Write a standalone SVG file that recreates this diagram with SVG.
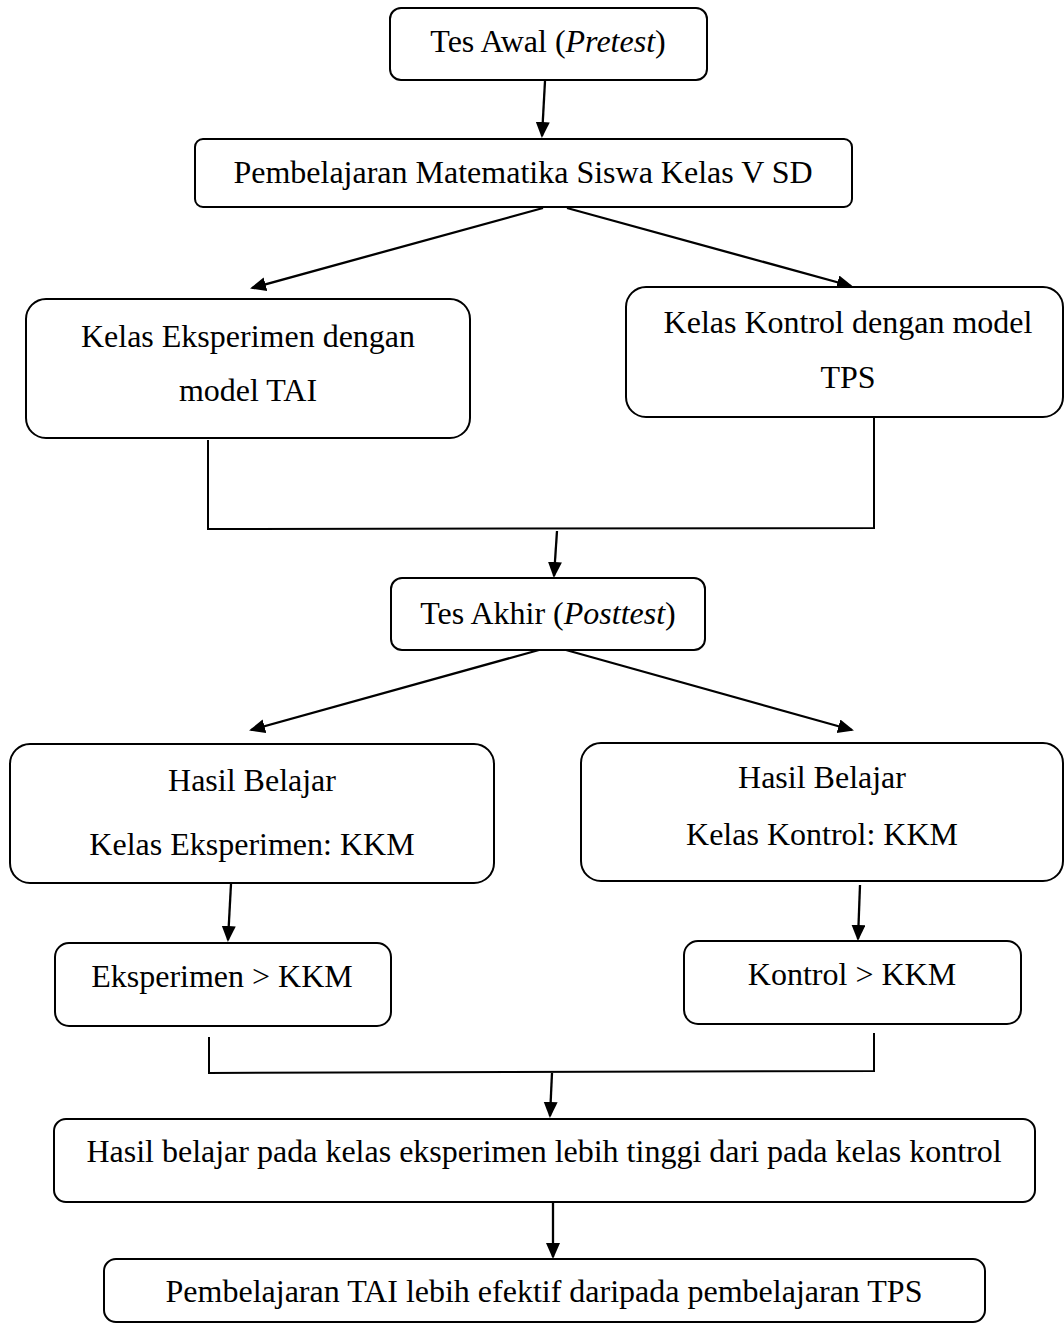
<svg xmlns="http://www.w3.org/2000/svg" width="1064" height="1330" viewBox="0 0 1064 1330">
<style>
.box{fill:#fff;stroke:#000;stroke-width:2}
.t{font-family:"Liberation Serif","Times New Roman",serif;font-size:32px;fill:#000;text-anchor:middle}
.c{stroke:#000;stroke-width:2;fill:none}
.a{stroke:#000;stroke-width:2.3;fill:none;marker-end:url(#ah)}
</style>
<defs>
<marker id="ah" markerUnits="userSpaceOnUse" markerWidth="18" markerHeight="16" refX="14" refY="7" orient="auto">
<path d="M0,0 L16,7 L0,14 z" fill="#000"/>
</marker>
</defs>
<rect width="1064" height="1330" fill="#fff"/>
<g id="connectors">
<line class="a" x1="545" y1="81" x2="542" y2="136"/>
<line class="a" x1="543" y1="208" x2="252" y2="288"/>
<line class="a" x1="567" y1="208" x2="851" y2="286"/>
<polyline class="c" points="208,440 208,529 874,528 874,417"/>
<line class="a" x1="557" y1="531" x2="554" y2="576"/>
<line class="a" x1="539" y1="650" x2="251" y2="730"/>
<line class="a" x1="566" y1="650" x2="852" y2="730"/>
<line class="a" x1="231" y1="884" x2="228" y2="940"/>
<line class="a" x1="860" y1="885" x2="858" y2="939"/>
<polyline class="c" points="209,1037 209,1073 874,1071 874,1033"/>
<line class="a" x1="552" y1="1073" x2="550" y2="1116"/>
<line class="a" x1="553" y1="1203" x2="553" y2="1257"/>
</g>
<g id="n1"><rect class="box" x="390" y="8" width="317" height="72" rx="11"/><text class="t" x="548" y="52">Tes Awal (<tspan font-style="italic">Pretest</tspan>)</text></g>
<g id="n2"><rect class="box" x="195" y="139" width="657" height="68" rx="8"/><text class="t" x="523" y="183">Pembelajaran Matematika Siswa Kelas V SD</text></g>
<g id="n3"><rect class="box" x="26" y="299" width="444" height="139" rx="20"/><text class="t" x="248" y="347">Kelas Eksperimen dengan</text><text class="t" x="248" y="401">model TAI</text></g>
<g id="n4"><rect class="box" x="626" y="287" width="437" height="130" rx="20"/><text class="t" x="848" y="333">Kelas Kontrol dengan model</text><text class="t" x="848" y="388">TPS</text></g>
<g id="n5"><rect class="box" x="391" y="578" width="314" height="72" rx="11"/><text class="t" x="548" y="624">Tes Akhir (<tspan font-style="italic">Posttest</tspan>)</text></g>
<g id="n6"><rect class="box" x="10" y="744" width="484" height="139" rx="20"/><text class="t" x="252" y="791">Hasil Belajar</text><text class="t" x="252" y="855">Kelas Eksperimen: KKM</text></g>
<g id="n7"><rect class="box" x="581" y="743" width="482" height="138" rx="20"/><text class="t" x="822" y="788">Hasil Belajar</text><text class="t" x="822" y="845">Kelas Kontrol: KKM</text></g>
<g id="n8"><rect class="box" x="55" y="943" width="336" height="83" rx="14"/><text class="t" x="222" y="987">Eksperimen &gt; KKM</text></g>
<g id="n9"><rect class="box" x="684" y="941" width="337" height="83" rx="14"/><text class="t" x="852" y="985">Kontrol &gt; KKM</text></g>
<g id="n10"><rect class="box" x="54" y="1119" width="981" height="83" rx="12"/><text class="t" x="544" y="1162">Hasil belajar pada kelas eksperimen lebih tinggi dari pada kelas kontrol</text></g>
<g id="n11"><rect class="box" x="104" y="1259" width="881" height="63" rx="12"/><text class="t" x="544" y="1302">Pembelajaran TAI lebih efektif daripada pembelajaran TPS</text></g>
</svg>
